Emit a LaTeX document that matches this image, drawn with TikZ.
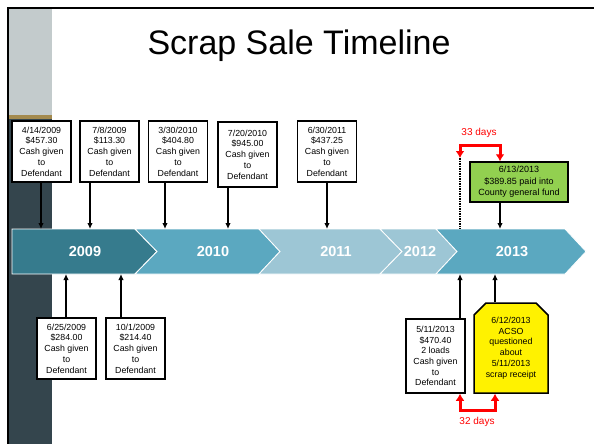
\documentclass[tikz,border=0pt]{standalone}
\usepackage{fontspec}
\setmainfont{Liberation Sans}
\usetikzlibrary{arrows.meta}
\usetikzlibrary{shapes.misc}
\definecolor{panelgray}{HTML}{C3CBCC}
\definecolor{panelgold}{HTML}{A38A4E}
\definecolor{slate}{HTML}{34454D}
\definecolor{yrdark}{HTML}{367B8D}
\definecolor{yrmid}{HTML}{5BA8C0}
\definecolor{yrlight}{HTML}{9DC6D5}
\definecolor{fundgreen}{HTML}{92D050}
\tikzset{
  evt/.style={draw, line width=1.5pt, fill=white, align=center, inner sep=1pt,
    font=\fontsize{8.8}{10.7}\selectfont, minimum width=59pt, minimum height=61pt},
  yr/.style={text=white, font=\fontsize{14.5}{16}\selectfont\bfseries},
  arr/.style={line width=1.5pt, -{Latex[length=6pt,width=5.5pt]}},
  redarr/.style={draw=red, line width=3pt, {Latex[length=7pt,width=9pt]}-{Latex[length=7pt,width=9pt]}},
  days/.style={text=red, font=\fontsize{10}{12}\selectfont},
}

\begin{document}
\begin{tikzpicture}[x=1pt, y=-1pt]
\useasboundingbox (0,0) rectangle (594,444);
\fill[panelgray] (9,9) rectangle (52,115);
\fill[panelgold] (9,115) rectangle (52,118.5);
\fill[slate] (9,118.5) rectangle (52,444);
\draw[line width=2pt] (8,444) -- (8,8) -- (594,8);
\node[font=\fontsize{34}{40}\selectfont, anchor=base] (title) at (299,55) {Scrap Sale Timeline};

\foreach \xa/\xn/\xb/\xt/\col/\lx/\yr in {12/12/135/157/yrdark/85/2009, 135/157/259/280/yrmid/213/2010,
    259/280/380/402/yrlight/336/2011, 380/402/436/457/yrlight/420/2012, 436/457/565/586/yrmid/512/2013}{
  \filldraw[fill=\col, draw=white, line width=0.8pt] (\xa,229) -- (\xb,229) -- (\xt,251.5) -- (\xb,274) -- (\xa,274) -- (\xn,251.5) -- cycle;
  \node[yr] (y\yr) at (\lx,251.5) {\yr};
}

\node[evt] (b1) at (41.5,151.5) {4/14/2009\\\$457.30\\Cash given\\to\\Defendant};
\node[evt] (b2) at (109.5,151.5) {7/8/2009\\\$113.30\\Cash given\\to\\Defendant};
\node[evt] (b3) at (178,151.5) {3/30/2010\\\$404.80\\Cash given\\to\\Defendant};
\node[evt, minimum height=65pt] (b4) at (247.5,154.5) {7/20/2010\\\$945.00\\Cash given\\to\\Defendant};
\node[evt] (b5) at (327,151.5) {6/30/2011\\\$437.25\\Cash given\\to\\Defendant};
\node[evt] (b6) at (66.5,348.5) {6/25/2009\\\$284.00\\Cash given\\to\\Defendant};
\node[evt] (b7) at (135.5,348.5) {10/1/2009\\\$214.40\\Cash given\\to\\Defendant};
\node[evt, minimum height=74pt] (b8) at (435.5,356) {5/11/2013\\\$470.40\\2 loads\\Cash given\\to\\Defendant};
\node[evt, fill=yellow, minimum width=74pt, minimum height=90pt, chamfered rectangle,
  chamfered rectangle corners={north west,north east}, chamfered rectangle xsep=6pt,
  chamfered rectangle ysep=6pt] (acso) at (511,348) {6/12/2013\\ACSO\\questioned\\about\\5/11/2013\\scrap receipt};
\node[evt, fill=fundgreen, font=\fontsize{9}{11.5}\selectfont, minimum width=98pt, minimum height=40pt] (gfund) at (519,182) {6/13/2013\\\$389.85 paid into\\County general fund};

\coordinate (ta) at (41,229);
\coordinate (tb) at (90,229);
\coordinate (tc) at (165,229);
\coordinate (td) at (228,229);
\coordinate (te) at (327,229);
\coordinate (tg) at (500,229);
\coordinate (tdot) at (460,229);
\coordinate (dtop) at (460,158);
\coordinate (ba) at (66,274);
\coordinate (bb) at (121,274);
\coordinate (bc) at (460,274);
\coordinate (bd) at (495,274);

\draw[arr] (b1.south -| ta) -- (ta);
\draw[arr] (b2.south -| tb) -- (tb);
\draw[arr] (b3.south -| tc) -- (tc);
\draw[arr] (b4.south -| td) -- (td);
\draw[arr] (b5.south -| te) -- (te);
\draw[arr] (gfund.south -| tg) -- (tg);
\draw[arr] (b6.north -| ba) -- (ba);
\draw[arr] (b7.north -| bb) -- (bb);
\draw[arr] (b8.north -| bc) -- (bc);
\draw[arr] (acso.north -| bd) -- (bd);
\draw[line width=1.5pt, densely dotted] (dtop) -- (tdot);

\coordinate (r33a) at (460,145);
\coordinate (r33b) at (500,145);
\coordinate (r32a) at (460,410);
\coordinate (r32b) at (495,410);
\draw[redarr] (dtop) -- (r33a) -- (r33b) -- (r33b |- gfund.north);
\draw[redarr] (b8.south -| r32a) -- (r32a) -- (r32b) -- (r32b |- acso.south);
\node[days] (d33) at (479,133) {33 days};
\node[days] (d32) at (477,422) {32 days};
\end{tikzpicture}
\end{document}
